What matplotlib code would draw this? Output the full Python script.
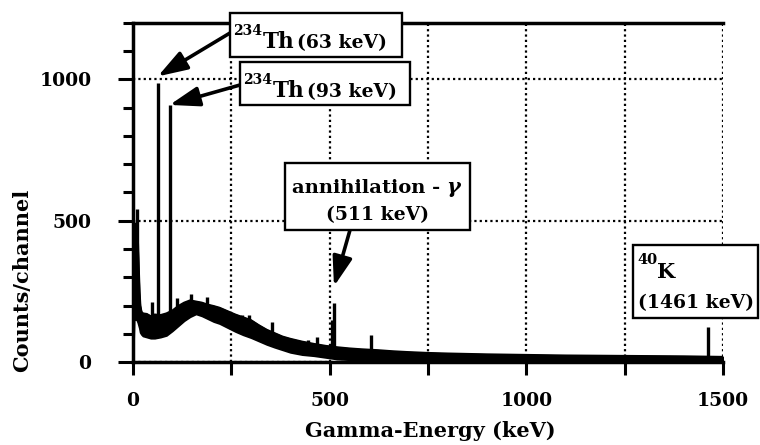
import matplotlib.pyplot as plt
from matplotlib.patches import Rectangle
from matplotlib.ticker import MultipleLocator

# continuum band of the spectrum (keV, lower and upper edge of the noisy trace)
band_kev = [0, 3, 6, 9, 12, 14, 16, 18, 21, 25, 35, 45, 55, 70, 85, 100, 115,
            130, 145, 160, 175, 190, 205, 220, 240, 260, 280, 300, 320, 340,
            360, 380, 400, 430, 460, 490, 520, 550, 580, 620, 660, 700, 750,
            800, 900, 1000, 1100, 1200, 1300, 1400, 1500]
band_hi = [450, 480, 490, 480, 420, 330, 250, 200, 178, 172, 170, 162, 168,
           166, 172, 182, 198, 210, 218, 214, 210, 203, 198, 192, 180, 168,
           158, 148, 130, 114, 102, 90, 82, 72, 64, 57, 52, 48, 45, 42, 38,
           35, 32, 30, 27, 25, 23, 22, 21, 20, 18]
band_lo = [0, 150, 150, 150, 140, 130, 120, 105, 98, 92, 88, 84, 84, 88, 94,
           110, 128, 146, 160, 170, 163, 153, 143, 136, 122, 108, 96, 86, 74,
           62, 52, 43, 34, 26, 22, 16, 10, 8, 6, 4, 2, 1, 0, 0, 0, 0, 0, 0, 0,
           0, 0]

# single lines standing out of the continuum
peak_kev = [10, 48, 63, 93, 112, 147, 189, 277, 295, 353, 445, 467, 507, 511,
            606, 1461]
peak_base = [300, 150, 140, 150, 180, 200, 190, 140, 140, 90, 55, 55, 40, 45,
             40, 15]
peak_counts = [540, 212, 986, 910, 228, 240, 230, 166, 168, 141, 78, 88, 150,
               208, 97, 125]

x_ticks = [0, 500, 1000, 1500]
y_ticks = [0, 500, 1000]

W, H = 760, 445


def fxy(px, py):
    # pixel position (from top left) -> figure fraction
    return px / W, 1 - py / H


plt.rcParams['font.family'] = 'DejaVu Serif'
plt.rcParams['font.weight'] = 'bold'

fig = plt.figure(figsize=(W / 100, H / 100), dpi=100)
ax = fig.add_axes([133 / W, 1 - 362 / H, 590 / W, 339 / H])

ax.fill_between(band_kev, band_lo, band_hi, color='black', lw=1.2, zorder=3)
ax.plot(band_kev, band_hi, color='black', lw=1.5, zorder=3)
ax.vlines(peak_kev, peak_base, peak_counts, color='black', lw=2.4, zorder=3)

ax.set_xlim(0, 1500)
ax.set_ylim(0, 1200)
ax.set_xticks(x_ticks)
ax.xaxis.set_minor_locator(MultipleLocator(250))
ax.set_yticks(y_ticks)
ax.yaxis.set_minor_locator(MultipleLocator(100))

grid_style = dict(color='black', linestyle=(0, (1, 1.4)), linewidth=1.6)
ax.xaxis.grid(True, which='both', **grid_style)
ax.yaxis.grid(True, which='major', **grid_style)

ax.spines['right'].set_visible(False)
for side in ['left', 'bottom', 'top']:
    ax.spines[side].set_linewidth(2.5)

ax.tick_params(axis='x', which='both', direction='out', length=9.5,
               width=2.2, pad=12, labelsize=13.5)
ax.tick_params(axis='y', which='major', direction='out', length=11,
               width=2.2, pad=19, labelsize=13.5)
ax.tick_params(axis='y', which='minor', direction='out', length=7,
               width=2.2)

fig.text(*fxy(22, 280), 'Counts/channel', rotation=90, ha='center',
         va='center', fontsize=15)
fig.text(*fxy(430, 437), 'Gamma-Energy (keV)', ha='center',
         va='baseline', fontsize=15)


def box(x0, y0, x1, y1):
    fx0, fy1 = fxy(x0, y0)
    fx1, fy0 = fxy(x1, y1)
    fig.add_artist(Rectangle((fx0, fy0), fx1 - fx0, fy1 - fy0,
                             transform=fig.transFigure, facecolor='white',
                             edgecolor='black', lw=1.7, zorder=5))


def label(px, py, s, size, **kw):
    fig.text(*fxy(px, py), s, fontsize=size, ha='left', va='baseline',
             zorder=6, **kw)


def arrow(i, px, py, dy):
    ax.annotate('', xy=(peak_kev[i], peak_counts[i] + dy), xycoords='data',
                xytext=(px, H - py), textcoords='figure pixels',
                arrowprops=dict(arrowstyle='-|>,head_length=0.9,head_width=0.3',
                                color='black', lw=2.6, mutation_scale=20,
                                shrinkA=0, shrinkB=0),
                annotation_clip=False, zorder=4)


# 234Th 63 keV
arrow(2, 230, 33, 25)
box(230, 13, 402, 57)
label(233, 35, '234', 10)
label(263, 48, 'Th', 15.5)
label(297, 48, '(63 keV)', 13.5)

# 234Th 93 keV
arrow(3, 240, 85, 0)
box(240, 62, 410, 105)
label(243, 84, '234', 10)
label(273, 97, 'Th', 15.5)
label(307, 97, '(93 keV)', 13.5)

# annihilation line
arrow(13, 350, 230, 60)
box(285, 163, 470, 230)
label(292, 193, 'annihilation -', 14)
label(446, 193, 'γ', 15, style='italic')
fig.text(*fxy(377, 220), '(511 keV)', fontsize=13.5, ha='center',
         va='baseline', zorder=6)

# 40K
box(633, 245, 758, 318)
label(637, 264, '40', 10.5)
label(657, 278, 'K', 15)
label(638, 308, '(1461 keV)', 13.5)

fig.savefig('out.png', dpi=100)
